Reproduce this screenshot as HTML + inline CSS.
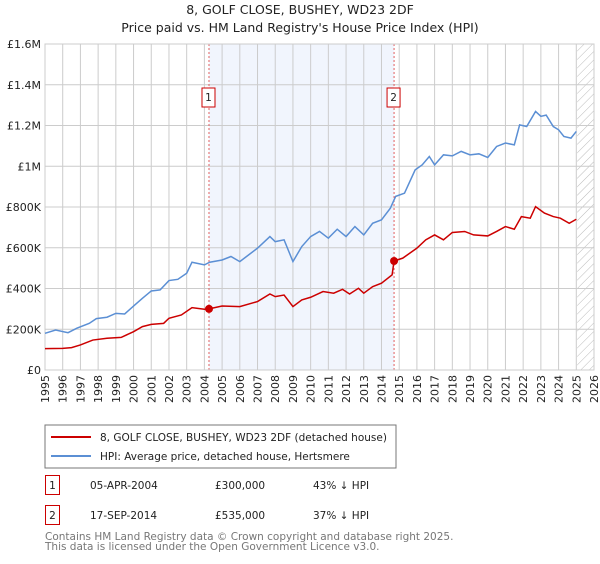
<!DOCTYPE html>
<html><head><meta charset="utf-8"><style>
body{margin:0;background:#fff;font-family:"DejaVu Sans","Liberation Sans",sans-serif;}
svg text{font-family:"DejaVu Sans","Liberation Sans",sans-serif;}
</style></head><body>
<svg id="c" width="600" height="560" xmlns="http://www.w3.org/2000/svg">
<defs><pattern id="hatch" width="6" height="6" patternUnits="userSpaceOnUse" patternTransform="rotate(45)"><line x1="0" y1="0" x2="0" y2="6" stroke="#bbb" stroke-width="1"/></pattern></defs>
<text x="300" y="14" text-anchor="middle" font-size="12.5" fill="#222">8, GOLF CLOSE, BUSHEY, WD23 2DF</text>
<text x="300" y="32" text-anchor="middle" font-size="12.5" fill="#222">Price paid vs. HM Land Registry's House Price Index (HPI)</text>
<g id="plot"></g>
<rect x="45" y="425" width="351" height="43" fill="#fff" stroke="#777"/>
<line x1="51" y1="437" x2="91" y2="437" stroke="#cc0000" stroke-width="2"/>
<text x="100" y="441" font-size="10.5" fill="#222">8, GOLF CLOSE, BUSHEY, WD23 2DF (detached house)</text>
<line x1="51" y1="456" x2="91" y2="456" stroke="#5b8fd4" stroke-width="2"/>
<text x="100" y="460" font-size="10.5" fill="#222">HPI: Average price, detached house, Hertsmere</text>
<rect x="45.5" y="475.5" width="14" height="19" fill="none" stroke="#cc0000"/>
<text x="52.5" y="489" text-anchor="middle" font-size="10.5" fill="#222">1</text>
<text x="90" y="489" font-size="10.5" fill="#222">05-APR-2004</text>
<text x="215" y="489" font-size="10.5" fill="#222">£300,000</text>
<text x="313" y="489" font-size="10.5" fill="#222">43% ↓ HPI</text>
<rect x="45.5" y="505.5" width="14" height="19" fill="none" stroke="#cc0000"/>
<text x="52.5" y="519" text-anchor="middle" font-size="10.5" fill="#222">2</text>
<text x="90" y="519" font-size="10.5" fill="#222">17-SEP-2014</text>
<text x="215" y="519" font-size="10.5" fill="#222">£535,000</text>
<text x="313" y="519" font-size="10.5" fill="#222">37% ↓ HPI</text>
<text x="45" y="540" font-size="10.5" fill="#777">Contains HM Land Registry data © Crown copyright and database right 2025.</text>
<text x="45" y="550" font-size="10.5" fill="#777">This data is licensed under the Open Government Licence v3.0.</text>
</svg>
<script>
const yTicks=[0,200000,400000,600000,800000,1000000,1200000,1400000,1600000];
const yTickLabels=["£0","£200K","£400K","£600K","£800K","£1M","£1.2M","£1.4M","£1.6M"];
const xYears=[1995,1996,1997,1998,1999,2000,2001,2002,2003,2004,2005,2006,2007,2008,2009,2010,2011,2012,2013,2014,2015,2016,2017,2018,2019,2020,2021,2022,2023,2024,2025,2026];
const hpiT=[1995,1995.6,1996.3,1996.8,1997.5,1997.9,1998.5,1999,1999.5,2000,2000.5,2001,2001.5,2002,2002.5,2003,2003.3,2004,2004.3,2005,2005.5,2006,2006.5,2007,2007.7,2008,2008.5,2009,2009.5,2010,2010.5,2011,2011.5,2012,2012.5,2013,2013.5,2014,2014.5,2014.8,2015.3,2015.9,2016.3,2016.7,2017,2017.5,2018,2018.5,2019,2019.5,2020,2020.5,2021,2021.5,2021.8,2022.2,2022.7,2023,2023.3,2023.7,2024,2024.3,2024.7,2025];
const hpiV=[180,196,183,205,229,252,259,278,275,314,352,388,393,439,445,475,529,516,529,540,557,532,565,598,655,630,639,532,606,655,680,647,691,655,704,663,720,737,794,852,868,982,1007,1048,1007,1056,1051,1073,1056,1061,1043,1097,1114,1105,1203,1195,1269,1245,1251,1195,1179,1146,1138,1171];
const ppT=[1995,1996,1996.5,1997,1997.7,1998.5,1999.3,2000,2000.5,2001,2001.7,2002,2002.7,2003.3,2004,2004.26,2005,2006,2007,2007.7,2008,2008.5,2009,2009.5,2010,2010.7,2011.3,2011.8,2012.2,2012.7,2013,2013.5,2014,2014.6,2014.71,2015.2,2016,2016.5,2017,2017.5,2018,2018.7,2019.2,2020,2020.5,2021,2021.5,2021.9,2022.4,2022.7,2023.2,2023.7,2024.1,2024.6,2025];
const ppV=[105,106,110,123,147,156,160,188,213,224,229,254,270,306,298,300,314,311,336,373,360,368,311,344,357,385,377,396,373,401,377,409,426,467,535,549,598,639,663,639,675,680,663,658,680,704,691,753,745,802,770,753,745,720,740];
const saleT=[2004.26,2014.71];
const saleV=[300,535];
const saleLabels=["1","2"];
const L=45,R=594,T=44,B=370,x0=1995,x1=2026,yMax=1600000;
const X=t=>L+(t-x0)/(x1-x0)*(R-L);
const Y=v=>B-v/yMax*(B-T);
const NS="http://www.w3.org/2000/svg";
const g=document.getElementById('plot');
function mk(tag,attrs,parent){const e=document.createElementNS(NS,tag);for(const k in attrs)e.setAttribute(k,attrs[k]);(parent||g).appendChild(e);return e;}
let r=mk('rect',{x:L,y:T,width:R-L,height:B-T,fill:'#fff'});


r=mk('rect',{x:X(saleT[0]),y:T,width:X(saleT[1])-X(saleT[0]),height:B-T,fill:'#eef3fc',opacity:0.8});


r=mk('rect',{x:X(2025.05),y:T,width:R-X(2025.05),height:B-T,fill:'url(#hatch)'});


xYears.forEach(yr=>{const x=X(yr);
 const l=mk('line',{x1:x,y1:T,x2:x,y2:B,stroke:'#ccc','stroke-width':1});
 
 
 const t=mk('text',{x:0,y:0,'font-size':11,fill:'#222','text-anchor':'end',transform:`translate(${x+4},${B+5}) rotate(-90)`});
 t.textContent=yr;
 
 
});
yTicks.forEach((v,i)=>{const y=Y(v);
 const l=mk('line',{x1:L,y1:y,x2:R,y2:y,stroke:'#ccc','stroke-width':1});
 
 
 const t=mk('text',{x:L-4,y:y+4,'font-size':11,fill:'#222','text-anchor':'end'});
 t.textContent=yTickLabels[i];
 
 
});
saleT.forEach((t,i)=>{const x=X(t);
 const l=mk('line',{x1:x,y1:T,x2:x,y2:B,stroke:'#e06060','stroke-width':1,'stroke-dasharray':'2,2'});
 
 
 const b=mk('rect',{x:x-7,y:88,width:13,height:19,fill:'#fff',stroke:'#cc0000'});
 
 
 const tx=mk('text',{x:x-0.5,y:101,'font-size':10.5,'text-anchor':'middle',fill:'#222'});
 tx.textContent=saleLabels[i];
 
 
});
const ax=mk('rect',{x:L,y:T,width:R-L,height:B-T,fill:'none',stroke:'#ccc'});


let p=mk('polyline',{points:hpiT.map((t,i)=>X(t)+','+Y(hpiV[i]*1000)).join(' '),fill:'none',stroke:'#5b8fd4','stroke-width':1.5});


p=mk('polyline',{points:ppT.map((t,i)=>X(t)+','+Y(ppV[i]*1000)).join(' '),fill:'none',stroke:'#cc0000','stroke-width':1.5});


saleT.forEach((t,i)=>{
 const c=mk('circle',{cx:X(t),cy:Y(saleV[i]*1000),r:4,fill:'#cc0000'});
 
 
});
</script>
</body></html>
